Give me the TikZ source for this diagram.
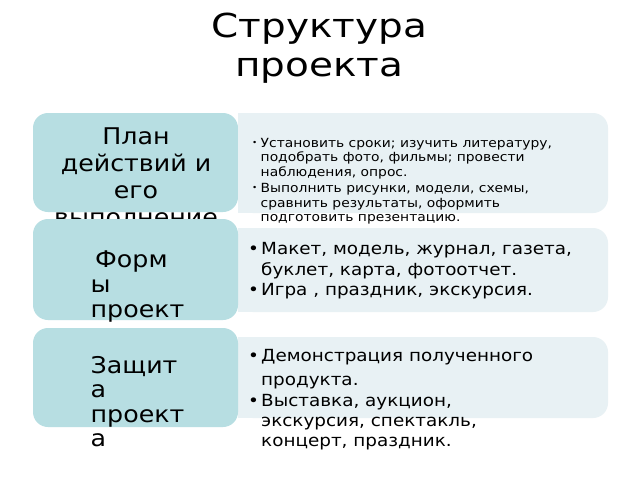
\documentclass[tikz,border=0pt]{standalone}
\usepackage{fontspec}
\setmainfont{DejaVu Sans}[FakeStretch=1.1]
\newfontfamily\titlefont{DejaVu Sans}[FakeStretch=1.18]
\definecolor{lefttint}{RGB}{183,222,226}
\definecolor{righttint}{RGB}{232,241,244}
\tikzset{
  leftbox/.style={fill=lefttint, rounded corners=15pt, minimum width=205pt, minimum height=#1, inner sep=0pt},
  lefttext/.style={inner sep=0pt, anchor=base},
  listtext/.style={inner sep=0pt, anchor=base west},
}
\newcommand{\smallbul}{\makebox[8.5pt][l]{\fontsize{8}{8}\selectfont\raisebox{2.5pt}{•}}}
\newcommand{\bigbul}{\makebox[13pt][l]{•}}
\begin{document}
\begin{tikzpicture}[x=1pt,y=-1pt]
\useasboundingbox (0,0) rectangle (640,480);
\fill[white] (0,0) rectangle (640,480);
% title
\node[lefttext] (title) at (319.5,37) {\parbox[t]{400pt}{\centering\titlefont\fontsize{33}{39}\selectfont Структура\\проекта}};
% row 1
\node[leftbox=99pt] (plan) at (135.5,162.5) {};
\node[lefttext] (plantext) at (136,144.5) {\parbox[t]{210pt}{\centering\fontsize{23}{27}\selectfont План\\действий и\\его\\выполнение}};
\fill[righttint, rounded corners=15pt] (238,113) rectangle (608,213);
\fill[righttint] (238,113) rectangle (258,213);
\node[listtext] (plantasks) at (252,147.5) {\parbox[t]{350pt}{\raggedright\fontsize{12.6}{14.4}\selectfont
\smallbul Установить сроки; изучить литературу,\\
\hspace*{8.5pt}подобрать фото, фильмы; провести\\
\hspace*{8.5pt}наблюдения, опрос.\\[2pt]
\smallbul Выполнить рисунки, модели, схемы,\\
\hspace*{8.5pt}сравнить результаты, оформить\\
\hspace*{8.5pt}подготовить презентацию.}};
% row 2
\fill[righttint, rounded corners=15pt] (238,228) rectangle (608,312);
\fill[righttint] (238,228) rectangle (258,312);
\node[leftbox=101pt] (forms) at (135.5,269.5) {};
\node[listtext] (formstext) at (90.5,267) {\parbox[t]{140pt}{\raggedright\fontsize{23}{25}\selectfont
\hspace*{4.5pt}Форм\\ы\\проект}};
\node[listtext] (formslist) at (248,254.5) {\parbox[t]{360pt}{\raggedright\fontsize{16.7}{20.7}\selectfont
\bigbul Макет, модель, журнал, газета,\\
\hspace*{13pt}буклет, карта, фотоотчет.\\
\bigbul Игра , праздник, экскурсия.}};
% row 3
\fill[righttint, rounded corners=15pt] (238,337) rectangle (608,418);
\fill[righttint] (238,337) rectangle (258,418);
\node[leftbox=99pt] (defense) at (135.5,377.5) {};
\node[listtext] (defensetext) at (90.5,373.5) {\parbox[t]{140pt}{\raggedright\fontsize{23}{24.3}\selectfont
Защит\\а\\проект\\а}};
\node[listtext] (defenselist) at (248,361.7) {\parbox[t]{360pt}{\raggedright\fontsize{16.7}{20}\selectfont
\bigbul Демонстрация полученного\\[3.3pt]
\hspace*{13pt}продукта.\\[1.7pt]
\bigbul Выставка, аукцион,\\
\hspace*{13pt}экскурсия, спектакль,\\
\hspace*{13pt}концерт, праздник.}};
\end{tikzpicture}
\end{document}
